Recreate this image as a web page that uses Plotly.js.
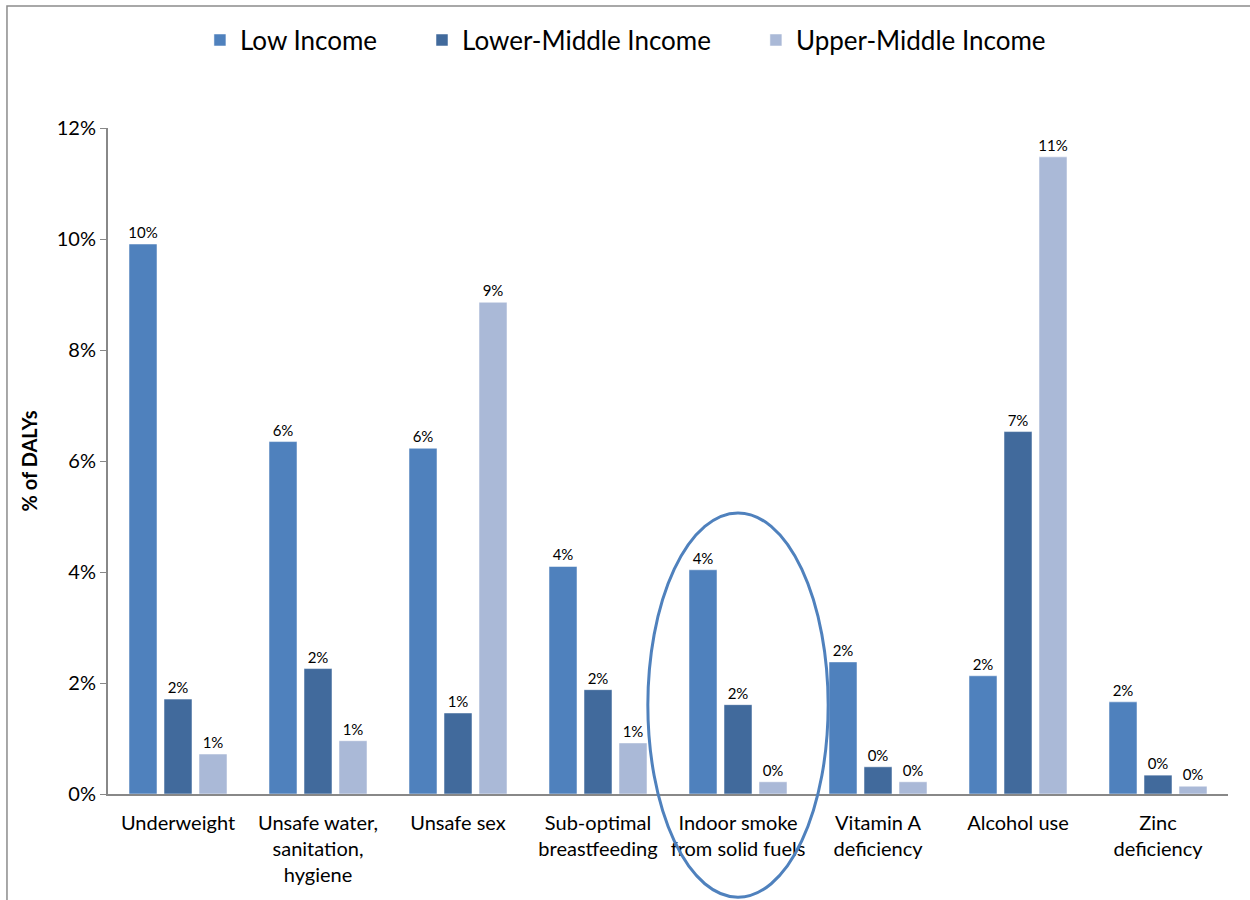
<!DOCTYPE html>
<html>
<head>
<meta charset="utf-8">
<script src="https://cdn.plot.ly/plotly-3.0.1.min.js"></script>
<style>body{margin:0;background:#fff;} #chart{width:1250px;height:900px;}</style>
</head>
<body>
<div id="chart"></div>
<script>
var categories = ["Underweight", "Unsafe water,<br>sanitation,<br>hygiene", "Unsafe sex", "Sub-optimal<br>breastfeeding", "Indoor smoke<br>from solid fuels", "Vitamin A<br>deficiency", "Alcohol use", "Zinc<br>deficiency"];
var lowIncome = [0.0991, 0.0635, 0.0623, 0.0410, 0.0404, 0.0238, 0.0213, 0.0166];
var lowerMiddleIncome = [0.0171, 0.0226, 0.0146, 0.0188, 0.0161, 0.0049, 0.0653, 0.0034];
var upperMiddleIncome = [0.0072, 0.0096, 0.0886, 0.0092, 0.0022, 0.0022, 0.1148, 0.0014];
var seriesNames = ["Low Income", "Lower-Middle Income", "Upper-Middle Income"];
var yTickVals = [0, 0.02, 0.04, 0.06, 0.08, 0.10, 0.12];
var yTickText = ["0%", "2%", "4%", "6%", "8%", "10%", "12%"];

var colors = ["#4F81BD", "#416A9C", "#AAB9D7"];
var allSeries = [lowIncome, lowerMiddleIncome, upperMiddleIncome];
var font = "Lato, 'Open Sans', sans-serif";
var pad = "\u00a0\u00a0\u00a0\u00a0\u00a0\u00a0";

var traces = allSeries.map(function (vals, i) {
  return {
    type: "bar",
    name: seriesNames[i] + (i < 2 ? pad : ""),
    x: categories,
    y: vals,
    text: vals.map(function (v) { return Math.round(v * 100) + "%"; }),
    textposition: "outside",
    constraintext: "none",
    cliponaxis: false,
    textfont: {family: font, size: 15, color: "#000"},
    marker: {color: colors[i], line: {color: "rgba(255,255,255,0.5)", width: 1}},
    hoverinfo: "x+y"
  };
});

var layout = {
  width: 1250, height: 900,
  paper_bgcolor: "#fff", plot_bgcolor: "#fff",
  margin: {l: 108, r: 22, t: 128, b: 105.5},
  barmode: "group",
  bargap: 0.25,
  bargroupgap: 0.2,
  font: {family: font, color: "#000"},
  showlegend: true,
  legend: {
    orientation: "h", x: 0.462, xanchor: "center", y: 1.132, yanchor: "middle",
    font: {family: font, size: 26, color: "#000"},
    bgcolor: "rgba(0,0,0,0)",
    itemwidth: 30, traceorder: "normal"
  },
  xaxis: {
    type: "category",
    showline: true, linecolor: "#888", linewidth: 2,
    ticks: "", ticklabelstandoff: 10,
    tickfont: {family: font, size: 20, color: "#000"},
    showgrid: false, zeroline: false, fixedrange: true
  },
  yaxis: {
    range: [0, 0.12],
    tickvals: yTickVals, ticktext: yTickText,
    showline: true, linecolor: "#888", linewidth: 2,
    ticks: "outside", ticklen: 6, tickcolor: "#888",
    tickfont: {family: font, size: 20, color: "#000"},
    showgrid: false, zeroline: false,
    title: {text: "<b>% of DALYs</b>", font: {family: font, size: 20, color: "#000"}, standoff: 14},
    fixedrange: true
  },
  shapes: [
    {type: "circle", xref: "paper", yref: "paper", x0: 0.482, x1: 0.643, y0: -0.155, y1: 0.422,
     line: {color: "#4F81BD", width: 3}, layer: "above"},
    {type: "rect", xref: "paper", yref: "paper", x0: -0.0902, x1: 1.2, y0: -0.3, y1: 1.183,
     line: {color: "#8C8C8C", width: 1.5}, layer: "below"}
  ]
};

Plotly.newPlot("chart", traces, layout, {displayModeBar: false, staticPlot: true});
</script>
</body>
</html>
